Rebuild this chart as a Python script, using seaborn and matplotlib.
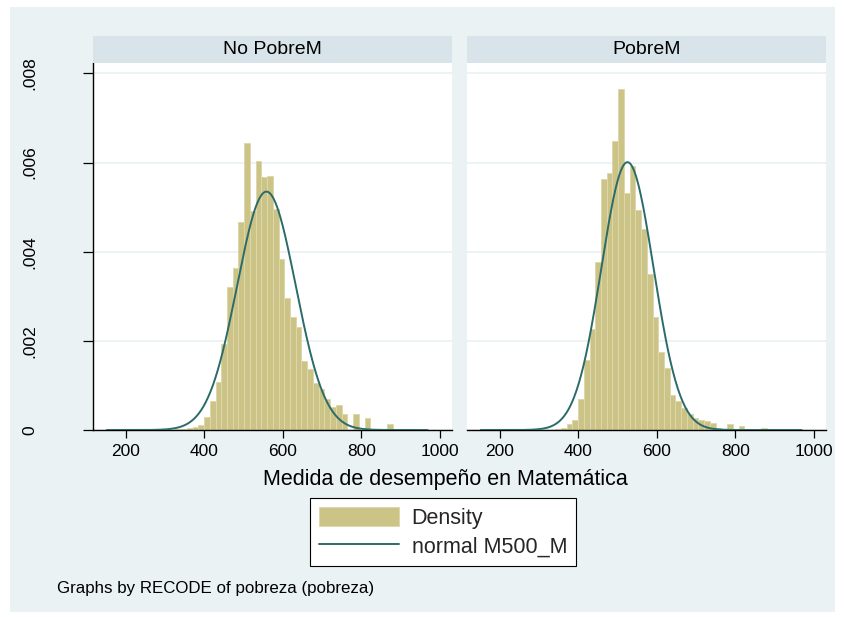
import numpy as np
import pandas as pd
import matplotlib
matplotlib.use("Agg")
import matplotlib.pyplot as plt
import seaborn as sns
from matplotlib.patches import Rectangle

# ---------------- data ----------------
panels = ["No PobreM", "PobreM"]
bin_start = 151.0
bin_width = 14.6
density_no_pobre = [
    0.00001, 0.00001, 0.00001, 0.00001, 0.0, 0.0, 0.0, 0.0,
    0.00001, 0.00001, 0.00001, 0.00001, 0.00002, 0.00003, 0.00004, 0.00007,
    0.00012, 0.00030, 0.00066, 0.00108, 0.00194, 0.00320, 0.00363, 0.00467,
    0.00643, 0.00491, 0.00604, 0.00568, 0.00569, 0.00495, 0.00384, 0.00296,
    0.00253, 0.00232, 0.00155, 0.00137, 0.00106, 0.00093, 0.00070, 0.00052,
    0.00055, 0.00037, 0.00001, 0.00036, 0.00001, 0.00026, 0.00001, 0.00001,
    0.00001, 0.00013, 0.00001, 0.00001, 0.00001, 0.00001, 0.00001, 0.00003,
]
density_pobre = [
    0.00001, 0.00001, 0.00001, 0.00001, 0.0, 0.0, 0.00001, 0.0,
    0.00001, 0.00001, 0.00001, 0.00001, 0.00001, 0.00002, 0.00004, 0.00013,
    0.00022, 0.00069, 0.00156, 0.00226, 0.00376, 0.00564, 0.00577, 0.00648,
    0.00766, 0.00532, 0.00592, 0.00493, 0.00450, 0.00349, 0.00253, 0.00174,
    0.00139, 0.00079, 0.00066, 0.00050, 0.00037, 0.00026, 0.00022, 0.00021,
    0.00015, 0.00005, 0.00001, 0.00013, 0.00001, 0.00009, 0.00001, 0.00001,
    0.00001, 0.00004, 0.00001, 0.00001, 0.00001, 0.00001, 0.00001, 0.00002,
]
normal_mean = [558.0, 525.0]
normal_sd = [74.6, 66.4]
x_ticks = [200, 400, 600, 800, 1000]
y_ticks = [0, 0.002, 0.004, 0.006, 0.008]
y_tick_labels = ["0", ".002", ".004", ".006", ".008"]
x_label = "Medida de desempeño en Matemática"
legend_labels = ["Density", "normal M500_M"]
note_text = "Graphs by RECODE of pobreza (pobreza)"

# ---------------- style ----------------
BG = "#EAF2F3"
STRIP = "#D8E4EA"
BAR = "#CCC487"
BAR_EDGE = "#DDD7AB"
LINE = "#2B6B68"
FONT = ["Liberation Sans", "DejaVu Sans"]

sns.set_theme(style="white")
plt.rcParams["font.family"] = FONT

W, H = 845, 617
fig = plt.figure(figsize=(W / 100, H / 100), dpi=100)
fig.patch.set_facecolor("white")
fig.patches.append(Rectangle((10 / W, 1 - 612 / H), 825 / W, 605 / H,
                             transform=fig.transFigure, facecolor=BG,
                             edgecolor="none", zorder=-10))

n_bins = len(density_no_pobre)
edges = bin_start + bin_width * np.arange(n_bins + 1)
centers = (edges[:-1] + edges[1:]) / 2
df = pd.DataFrame({
    "panel": np.repeat(panels, n_bins),
    "center": np.tile(centers, 2),
    "density": density_no_pobre + density_pobre,
})

def px(x):
    return x / W

def py(y):
    return 1 - y / H

ax_left = [93, 467]
ax_w = 359
top_y, bot_y = 62.7, 430
axes = []
for i, p in enumerate(panels):
    ax = fig.add_axes([px(ax_left[i]), py(bot_y), ax_w / W, (bot_y - top_y) / H])
    ax.set_facecolor("white")
    sub = df[df["panel"] == p]
    sns.histplot(data=sub, x="center", weights="density",
                 binwidth=bin_width, binrange=(float(edges[0]), float(edges[-1])),
                 stat="count", ax=ax, color=BAR, edgecolor=BAR_EDGE,
                 linewidth=0.7, alpha=1.0, zorder=2)
    xs = np.linspace(edges[0], edges[-1], 400)
    ys = np.exp(-0.5 * ((xs - normal_mean[i]) / normal_sd[i]) ** 2) / (normal_sd[i] * np.sqrt(2 * np.pi))
    sns.lineplot(x=xs, y=ys, ax=ax, color=LINE, linewidth=1.4, zorder=3)
    ax.set_xlim(116, 1031)
    ax.set_ylim(0, 0.00824)
    ax.set_xticks(x_ticks)
    ax.set_xticklabels([str(t) for t in x_ticks])
    ax.set_yticks(y_ticks)
    ax.yaxis.grid(True, color=BG, linewidth=1.3, zorder=0)
    ax.xaxis.grid(False)
    ax.set_axisbelow(True)
    for s in ["top", "right"]:
        ax.spines[s].set_visible(False)
    ax.spines["bottom"].set_color("black")
    ax.spines["bottom"].set_linewidth(1.0)
    ax.tick_params(axis="x", direction="out", length=6, width=0.9, color="black",
                   pad=4, labelsize=12.5, labelcolor="black", bottom=True)
    if i == 0:
        ax.spines["left"].set_color("black")
        ax.spines["left"].set_linewidth(1.0)
        ax.set_yticklabels(y_tick_labels, rotation=90, va="center")
        ax.tick_params(axis="y", direction="out", length=7, width=0.9, color="black",
                       pad=33, labelsize=12.5, labelcolor="black", left=True)
    else:
        ax.spines["left"].set_visible(False)
        ax.tick_params(axis="y", left=False, labelleft=False)
    ax.set_xlabel("")
    ax.set_ylabel("")
    fig.patches.append(Rectangle((px(ax_left[i]), py(top_y)), ax_w / W, 26.5 / H,
                                 transform=fig.transFigure, facecolor=STRIP,
                                 edgecolor="none", zorder=1))
    fig.text(px(ax_left[i] + ax_w / 2), py(49), p, ha="center", va="center",
             fontsize=14, color="black")
    axes.append(ax)

fig.text(px(445), py(480), x_label, ha="center", va="center", fontsize=15.5, color="black")

bar_handle = axes[0].patches[30]
line_handle = axes[0].lines[0]
leg = fig.legend([bar_handle, line_handle], legend_labels, loc="center",
                 bbox_to_anchor=(px(443), py(532)), frameon=True, fancybox=False,
                 fontsize=15.5, handlelength=3.7, handleheight=1.0,
                 handletextpad=0.6, labelspacing=0.3, borderpad=0.4,
                 borderaxespad=0)
leg.get_frame().set_edgecolor("black")
leg.get_frame().set_linewidth(0.8)
leg.get_frame().set_facecolor("white")
leg.get_frame().set_alpha(1.0)

fig.text(px(57), py(589), note_text, ha="left", va="center", fontsize=12.2, color="black")

fig.savefig("out.png", dpi=100)
